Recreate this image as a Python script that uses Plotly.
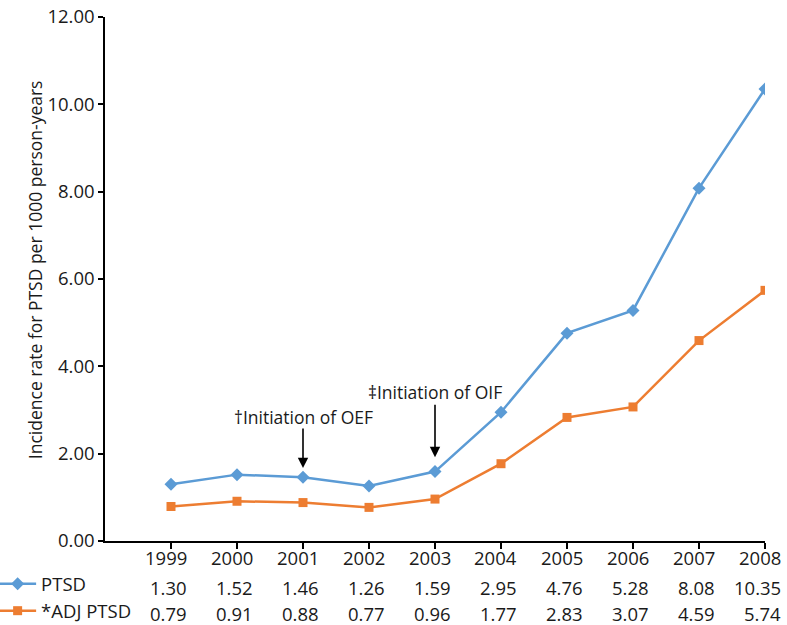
import plotly.graph_objects as go

years = [1999, 2000, 2001, 2002, 2003, 2004, 2005, 2006, 2007, 2008]
ptsd = [1.30, 1.52, 1.46, 1.26, 1.59, 2.95, 4.76, 5.28, 8.08, 10.35]
adj_ptsd = [0.79, 0.91, 0.88, 0.77, 0.96, 1.77, 2.83, 3.07, 4.59, 5.74]
series_names = ["PTSD", "*ADJ PTSD"]
y_ticks = [0, 2, 4, 6, 8, 10, 12]
y_title = "Incidence rate for PTSD per 1000 person-years"
events = [
    {"year": 2001, "label": "\u2020Initiation of OEF", "tip": 1.67, "tail": -41, "text_y": 2.84},
    {"year": 2003, "label": "\u2021Initiation of OIF", "tip": 1.92, "tail": -54, "text_y": 3.41},
]

BLUE = "#5B9BD5"
ORANGE = "#ED7D31"
FONT = "Open Sans"
TXT = "#1a1a1a"
FS = 18.5

fig = go.Figure()
fig.add_trace(go.Scatter(
    x=years, y=ptsd, name=series_names[0], mode="lines+markers",
    line=dict(color=BLUE, width=2.5),
    marker=dict(symbol="diamond", size=10, color=BLUE),
    legendgroup="a",
))
fig.add_trace(go.Scatter(
    x=years, y=adj_ptsd, name=series_names[1], mode="lines+markers",
    line=dict(color=ORANGE, width=2.5),
    marker=dict(symbol="square", size=9, color=ORANGE),
    legendgroup="b",
))

annotations = []
# data table rows
row_y = [-0.0324, -0.0878, -0.1393]
for i, yr in enumerate(years):
    for val, ry in zip([str(yr), f"{ptsd[i]:.2f}", f"{adj_ptsd[i]:.2f}"], row_y):
        annotations.append(dict(
            x=yr, y=ry, xref="x", yref="paper", text=val, showarrow=False,
            xanchor="right", yanchor="middle", xshift=18,
            font=dict(family=FONT, size=FS, color=TXT),
        ))

# event arrows and labels
for ev in events:
    annotations.append(dict(
        x=ev["year"], y=ev["tip"], xref="x", yref="y", text="",
        showarrow=True, ax=0, ay=ev["tail"], axref="pixel", ayref="pixel",
        arrowhead=2, arrowsize=1.3, arrowwidth=1.6, arrowcolor="black", standoff=0,
    ))
    annotations.append(dict(
        x=ev["year"], y=ev["text_y"], xref="x", yref="y", text=ev["label"],
        showarrow=False, xanchor="center", yanchor="middle",
        font=dict(family=FONT, size=17.5, color=TXT),
    ))

# y-axis title
annotations.append(dict(
    x=-0.106, y=0.517, xref="paper", yref="paper", text=y_title,
    showarrow=False, textangle=-90, xanchor="center", yanchor="middle",
    font=dict(family=FONT, size=17.5, color=TXT),
))

fig.update_layout(
    width=787, height=625,
    margin=dict(l=105, r=22, t=17, b=84, autoexpand=False),
    paper_bgcolor="white", plot_bgcolor="white",
    font=dict(family=FONT, size=FS, color=TXT),
    showlegend=True,
    legend=dict(
        x=-0.168, y=-0.046, xref="paper", yref="paper", xanchor="left", yanchor="top",
        bgcolor="rgba(0,0,0,0)", font=dict(family=FONT, size=FS, color=TXT),
        tracegroupgap=0, itemwidth=37,
    ),
    annotations=annotations,
    xaxis=dict(
        range=[1998, 2008], tickvals=years, showticklabels=False,
        showline=True, linecolor="black", linewidth=1.5,
        ticks="outside", ticklen=6, tickcolor="black", tickwidth=1.5,
        showgrid=False, zeroline=False, fixedrange=True,
    ),
    yaxis=dict(
        range=[0, 12], tickvals=y_ticks, tickformat=".2f",
        showline=True, linecolor="black", linewidth=1.5,
        ticks="outside", ticklen=5, tickcolor="black", tickwidth=1.5,
        showgrid=False, zeroline=False, fixedrange=True,
        tickfont=dict(family=FONT, size=FS, color=TXT),
    ),
)

fig.write_html("out.html", config={"displayModeBar": False},
               post_script="document.body.style.margin='0';")
